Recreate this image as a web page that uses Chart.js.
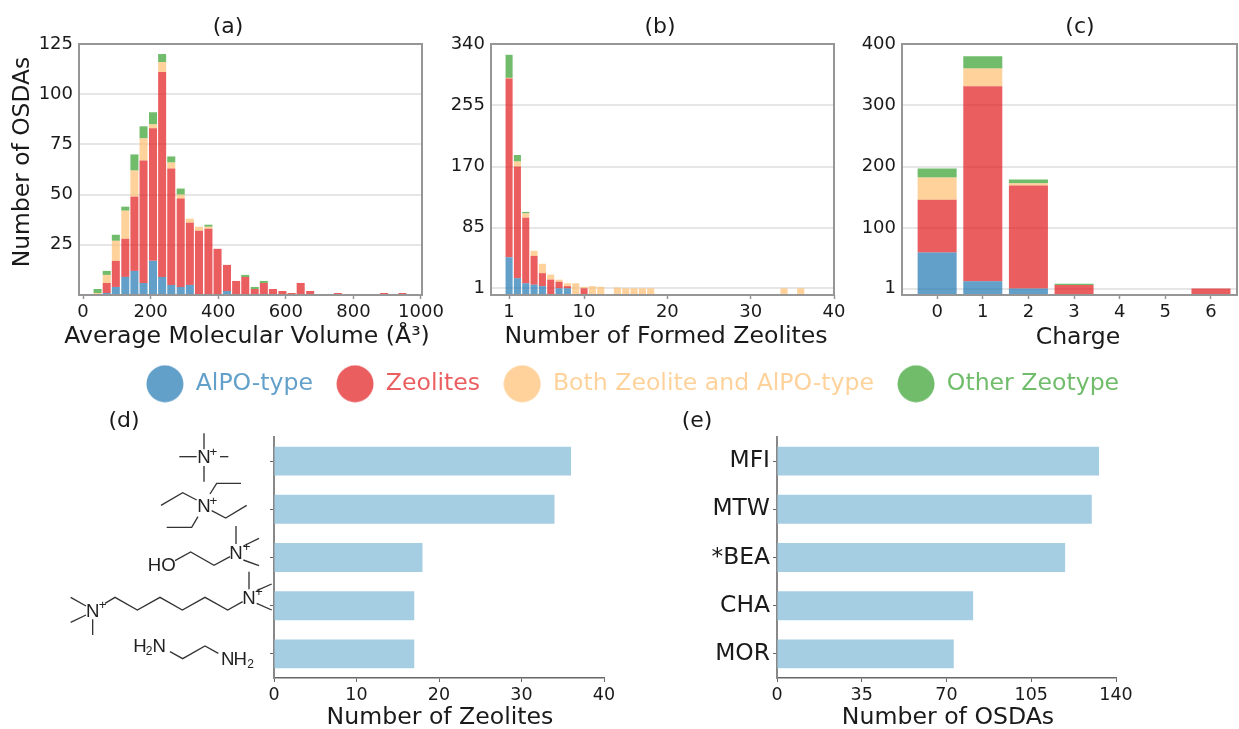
<!DOCTYPE html>
<html lang="en">
<head>
  <meta charset="UTF-8">
  <title>OSDA statistics</title>
  <script src="https://cdn.jsdelivr.net/npm/chart.js"></script>
  <style>
    html, body { margin: 0; background: #fff; overflow: hidden; width: 1239px; height: 729px; }
    #wrap { position: relative; width: 1239px; height: 729px; overflow: hidden; }
    canvas { position: absolute; left: 0; top: 0; }
  </style>
</head>
<body>
<div id="wrap">
  <canvas id="chartA"></canvas>
  <canvas id="chartB"></canvas>
  <canvas id="chartC"></canvas>
  <canvas id="chartLegend"></canvas>
  <canvas id="chartD"></canvas>
  <canvas id="chartE"></canvas>
</div>

<script>
const seriesNames = ['AlPO-type', 'Zeolites', 'Both Zeolite and AlPO-type', 'Other Zeotype'];
const seriesColors = ['rgba(31,120,180,0.7)', 'rgba(227,26,28,0.7)', 'rgba(253,191,111,0.7)', 'rgba(51,160,44,0.7)'];

// (a) molecular volume histogram
const volumeBins = [43, 70, 97, 125, 152, 179, 207, 234, 261, 289, 316, 343, 371, 398, 426, 453, 480, 508, 535, 562, 590, 617, 644, 672, 699, 726, 754, 781, 809, 836, 863, 891, 918, 945];
const volumeAlpo = [0, 1, 4, 9, 12, 6, 17, 9, 5, 4, 5, 0, 0, 0, 2, 0, 0, 0, 0, 0, 0, 0, 0, 0, 0, 0, 0, 0, 0, 0, 0, 0, 0, 0];
const volumeZeolite = [0, 5, 13, 19, 37, 61, 66, 102, 58, 44, 31, 32, 33, 23, 13, 7, 9, 3, 6, 3, 2, 1, 6, 2, 0, 0, 1, 0, 0, 0, 0, 1, 0, 1];
const volumeBoth = [1, 4, 10, 14, 13, 11, 2, 5, 3, 2, 2, 2, 1, 0, 0, 0, 0, 0, 0, 0, 0, 0, 0, 0, 0, 0, 0, 0, 0, 0, 0, 0, 0, 0];
const volumeOther = [2, 2, 3, 2, 8, 6, 6, 4, 3, 3, 0, 0, 1, 0, 0, 0, 1, 1, 1, 0, 0, 0, 0, 0, 0, 0, 0, 0, 0, 0, 0, 0, 0, 0];

// (b) number of formed zeolites
const formedBins = [1, 2, 3, 4, 5, 6, 7, 8, 9, 10, 11, 12, 14, 15, 16, 17, 18, 34, 36];
const formedAlpo = [44, 15, 8, 6, 4, 0, 1, 1, 0, 0, 0, 0, 0, 0, 0, 0, 0, 0, 0];
const formedZeolite = [248, 155, 91, 40, 18, 13, 9, 3, 0, 1, 0, 0, 0, 0, 0, 0, 0, 0, 0];
const formedBoth = [1, 7, 6, 7, 13, 7, 3, 4, 8, 2, 4, 3, 2, 1, 1, 1, 1, 1, 1];
const formedOther = [32, 9, 2, 0, 0, 0, 0, 0, 0, 0, 0, 0, 0, 0, 0, 0, 0, 0, 0];

// (c) charge
const chargeBins = [0, 1, 2, 3, 4, 5, 6];
const chargeAlpo = [60, 13, 1, 0, 0, 0, 0];
const chargeZeolite = [86, 318, 168, 7, 0, 0, 1];
const chargeBoth = [36, 29, 4, 0, 0, 0, 0];
const chargeOther = [15, 20, 6, 2, 0, 0, 0];

// (d) and (e)
const osdaNames = ['Tetramethylammonium', 'Tetraethylammonium', 'Choline', 'Hexamethonium', 'Ethylenediamine'];
const osdaZeolites = [36, 34, 18, 17, 17];
const frameworkNames = ['MFI', 'MTW', '*BEA', 'CHA', 'MOR'];
const frameworkOsdas = [133, 130, 119, 81, 73];

const FONT = 'DejaVu Sans';
const INK = '#1a1a1a';
const SPINE = '#969696';
const LIGHT_BLUE = '#a6cee3';
const CANVAS_W = 1239, CANVAS_H = 770; // taller than the window so axis titles can sit low

Chart.defaults.font.family = FONT;
Chart.defaults.color = INK;
Chart.defaults.animation = false;
Chart.defaults.responsive = false;

// puts "(a)" etc. where the panel wants it. Axis titles go through here too: the
// scale title squeezes anything wider than its axis and only centres on the plot
const panelTag = {
  id: 'panelTag',
  afterDraw(chart, args, opts) {
    const ctx = chart.ctx;
    ctx.save();
    ctx.font = '22px "' + FONT + '"';
    ctx.fillStyle = INK;
    ctx.textAlign = 'center';
    ctx.textBaseline = 'middle';
    ctx.fillText(opts.text, opts.x, opts.y);
    if (opts.under) {
      ctx.font = '23.6px "' + FONT + '"';
      ctx.fillText(opts.under.text, opts.under.x, opts.under.y);
    }
    if (opts.side) {
      ctx.translate(opts.side.x, opts.side.y);
      ctx.rotate(-Math.PI / 2);
      ctx.font = '23.4px "' + FONT + '"';
      ctx.fillText(opts.side.text, 0, 0);
    }
    ctx.restore();
  }
};

// top/right/left/bottom spines of the upper panels
const frame = {
  id: 'frame',
  afterDatasetsDraw(chart) {
    const a = chart.chartArea, ctx = chart.ctx;
    ctx.save();
    ctx.strokeStyle = SPINE;
    ctx.lineWidth = 2;
    ctx.strokeRect(a.left, a.top, a.right - a.left, a.bottom - a.top);
    ctx.restore();
  }
};

// stacked columns as floating ranges, the lowest one starts at the axis floor
function stackedSets(series, floor) {
  const running = series[0].map(() => null);
  return series.map((values, s) => ({
    label: seriesNames[s],
    backgroundColor: seriesColors[s],
    borderWidth: 0,
    grouped: false,
    data: values.map((v, i) => {
      if (!v) return null;
      const start = running[i] === null ? floor : running[i];
      const end = (running[i] === null ? 0 : running[i]) + v;
      running[i] = end;
      return [start, end];
    })
  }));
}

function fixedAxis(size, dim) {
  return axis => {
    axis[dim] = size;
    axis.paddingLeft = axis.paddingRight = axis.paddingTop = axis.paddingBottom = 0;
  };
}

function useTicks(values) {
  return axis => { axis.ticks = values.map(value => ({ value })); };
}

function upperPanel(id, box, bins, series, xr, xTicks, yr, yTicks, tag, barPct) {
  const sets = stackedSets(series, yr[0]);
  return new Chart(document.getElementById(id), {
    type: 'bar',
    data: { labels: bins, datasets: sets },
    options: {
      barPercentage: barPct,
      categoryPercentage: 1,
      layout: { padding: { left: box.left - 70, top: box.top, right: CANVAS_W - box.right, bottom: CANVAS_H - box.bottom - 62 } },
      plugins: { legend: { display: false }, panelTag: tag },
      scales: {
        x: {
          type: 'linear', min: xr[0], max: xr[1], offset: false,
          afterBuildTicks: useTicks(xTicks),
          afterFit: fixedAxis(62, 'height'),
          grid: { offset: false, drawOnChartArea: false, color: SPINE, tickLength: 4, tickWidth: 1.5 },
          border: { display: false },
          ticks: { autoSkip: false, maxRotation: 0, padding: 3, font: { size: 18 }, callback: v => String(v) }
        },
        y: {
          min: yr[0], max: yr[1],
          afterBuildTicks: useTicks(yTicks),
          afterFit: fixedAxis(70, 'width'),
          grid: { color: '#e6e6e6', lineWidth: 2, drawTicks: false },
          border: { display: false },
          ticks: { padding: 6, font: { size: 18 }, callback: v => String(v) }
        }
      }
    },
    plugins: [panelTag, frame]
  });
}

// skeleton drawings used as the y labels of panel (d), in 3x crop units around (60,420)
const bondLines = [
  [[432,40],[432,88]], [[432,138],[432,185]], [[358,110],[410,110]], [[480,110],[505,110]],
  [[450,222],[470,190],[543,190]], [[410,240],[368,218],[303,256]], [[414,290],[395,322],[320,322]], [[455,272],[497,294],[560,256]],
  [[528,318],[528,372]], [[550,378],[597,355]], [[550,420],[597,437]], [[345,422],[392,396],[462,436],[510,410]],
  [[567,455],[567,508]], [[590,512],[635,492]], [[590,550],[635,570]],
  [[32,532],[78,558]], [[32,607],[78,585]], [[98,598],[98,645]],
  [[135,550],[165,532],[232,570],[300,532],[367,570],[435,532],[503,570],[548,545]],
  [[330,695],[368,716],[435,678],[475,700]]
];
const atomText = [
  ['N',432,114,56], ['+',460,97,40], ['N',432,260,56], ['+',460,243,40],
  ['N',528,402,56], ['+',560,382,40], ['HO',305,438,56],
  ['N',567,536,56], ['+',597,518,40], ['N',98,575,56], ['+',128,557,40],
  ['H',240,682,56], ['2',267,695,36], ['N',298,682,56],
  ['N',503,720,56], ['H',541,720,56], ['2',572,735,36]
];
const molecules = {
  id: 'molecules',
  afterDraw(chart) {
    const ctx = chart.ctx;
    ctx.save();
    ctx.translate(60, 420);
    ctx.scale(1 / 3, 1 / 3);
    ctx.strokeStyle = '#333';
    ctx.lineWidth = 4;
    bondLines.forEach(pts => {
      ctx.beginPath();
      pts.forEach((p, i) => i ? ctx.lineTo(p[0], p[1]) : ctx.moveTo(p[0], p[1]));
      ctx.stroke();
    });
    ctx.fillStyle = '#222';
    ctx.textAlign = 'center';
    ctx.textBaseline = 'middle';
    atomText.forEach(t => {
      ctx.font = t[3] + 'px "Liberation Sans"';
      ctx.fillText(t[0], t[1], t[2]);
    });
    ctx.restore();
  }
};

function lowerPanel(id, box, labels, values, xr, xTicks, tag, showLabels, extra) {
  return new Chart(document.getElementById(id), {
    type: 'bar',
    data: { labels, datasets: [{ label: tag.under.text, data: values, backgroundColor: LIGHT_BLUE, borderWidth: 0 }] },
    options: {
      indexAxis: 'y',
      barPercentage: 0.6,
      categoryPercentage: 1,
      layout: { padding: { left: box.left - 70, top: box.top, right: CANVAS_W - box.right, bottom: CANVAS_H - box.bottom - 56 } },
      plugins: { legend: { display: false }, panelTag: tag },
      scales: {
        x: {
          type: 'linear', min: xr[0], max: xr[1],
          afterBuildTicks: useTicks(xTicks),
          afterFit: fixedAxis(56, 'height'),
          grid: { drawOnChartArea: false, color: '#666', tickLength: 4 },
          border: { color: '#666', width: 1.5 },
          ticks: { autoSkip: false, maxRotation: 0, padding: 3, font: { size: 17.5 }, callback: v => String(v) }
        },
        y: {
          afterFit: fixedAxis(70, 'width'),
          grid: { offset: false, drawOnChartArea: false, color: '#666', tickLength: 4 },
          border: { color: '#888', width: 2 },
          ticks: { display: showLabels, padding: 3, font: { size: 23.4 } }
        }
      }
    },
    plugins: [panelTag].concat(extra)
  });
}

document.querySelectorAll('canvas').forEach(c => { c.width = CANVAS_W; c.height = CANVAS_H; });

upperPanel('chartA', { left: 79, top: 44, right: 422, bottom: 295 }, volumeBins,
  [volumeAlpo, volumeZeolite, volumeBoth, volumeOther],
  [-12, 1003], [0, 200, 400, 600, 800, 1000], [0, 125], [25, 50, 75, 100, 125], {
    text: '(a)', x: 228, y: 27,
    under: { text: 'Average Molecular Volume (Å³)', x: 247, y: 337 },
    side: { text: 'Number of OSDAs', x: 23, y: 162 }
  }, 0.88);

upperPanel('chartB', { left: 491, top: 44, right: 834, bottom: 295 }, formedBins,
  [formedAlpo, formedZeolite, formedBoth, formedOther],
  [-1.17, 40], [1, 10, 20, 30, 40], [-8.3, 340], [1, 85, 170, 255, 340], {
    text: '(b)', x: 660, y: 27,
    under: { text: 'Number of Formed Zeolites', x: 666, y: 337 }
  }, 0.85);

upperPanel('chartC', { left: 902, top: 44, right: 1237, bottom: 295 }, chargeBins,
  [chargeAlpo, chargeZeolite, chargeBoth, chargeOther],
  [-0.77, 6.57], [0, 1, 2, 3, 4, 5, 6], [-9.5, 400], [1, 100, 200, 300, 400], {
    text: '(c)', x: 1080, y: 27,
    under: { text: 'Charge', x: 1078, y: 338 }
  }, 0.855);

// legend lives in its own empty chart so it can span the page
function legendDot(color) {
  const c = document.createElement('canvas');
  c.width = c.height = 38;
  const g = c.getContext('2d');
  g.fillStyle = color;
  g.beginPath();
  g.arc(19, 19, 18.5, 0, Math.PI * 2);
  g.fill();
  return c;
}
new Chart(document.getElementById('chartLegend'), {
  type: 'bar',
  data: {
    labels: [],
    datasets: seriesNames.map((label, i) => ({ label, data: [], backgroundColor: seriesColors[i] }))
  },
  options: {
    layout: { padding: { left: 26, top: 349 } },
    scales: { x: { display: false }, y: { display: false } },
    plugins: {
      legend: {
        position: 'top',
        labels: {
          font: { size: 23.6 },
          padding: 23,
          usePointStyle: true,
          pointStyleWidth: 38,
          generateLabels: chart => chart.data.datasets.map((d, i) => ({
            text: d.label,
            fontColor: d.backgroundColor,
            fillStyle: d.backgroundColor,
            strokeStyle: d.backgroundColor,
            lineWidth: 0,
            pointStyle: legendDot(d.backgroundColor),
            datasetIndex: i
          }))
        }
      }
    }
  }
});

lowerPanel('chartD', { left: 274, top: 437, right: 604, bottom: 678 }, osdaNames, osdaZeolites,
  [0, 40], [0, 10, 20, 30, 40], {
    text: '(d)', x: 124, y: 421,
    under: { text: 'Number of Zeolites', x: 440, y: 718 }
  }, false, [molecules]);

lowerPanel('chartE', { left: 777, top: 437, right: 1116, bottom: 678 }, frameworkNames, frameworkOsdas,
  [0, 140], [0, 35, 70, 105, 140], {
    text: '(e)', x: 697, y: 421,
    under: { text: 'Number of OSDAs', x: 948, y: 718 }
  }, true, []);
</script>
</body>
</html>
